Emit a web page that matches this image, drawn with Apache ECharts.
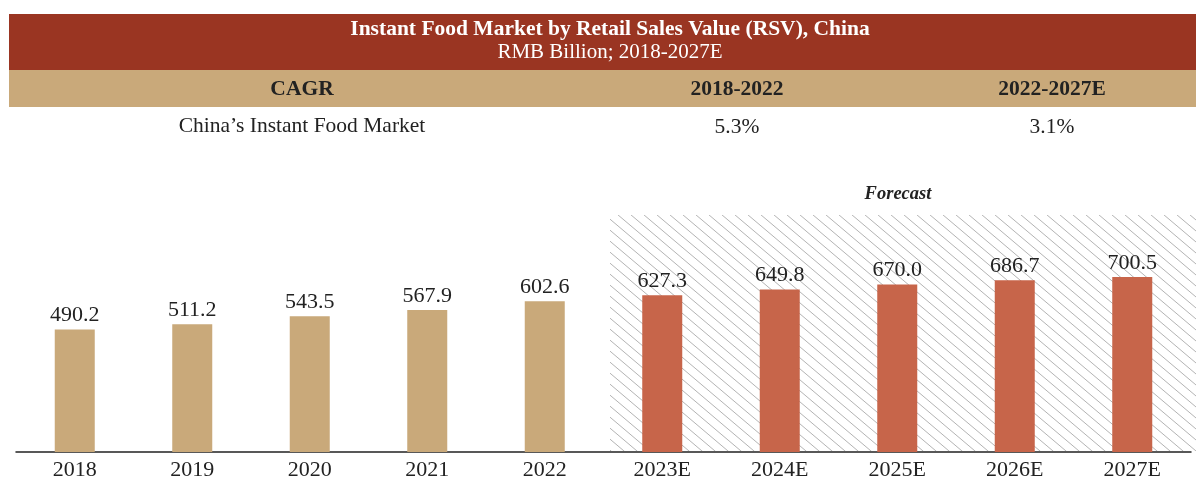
<!DOCTYPE html>
<html>
<head>
<meta charset="utf-8">
<script src="https://cdn.jsdelivr.net/npm/echarts@6/dist/echarts.min.js"></script>
<style>
  html, body { margin: 0; padding: 0; background: #fff; }
  #chart { width: 1196px; height: 485px; }
</style>
</head>
<body>
<div id="chart"></div>
<script>
// data
var years = ['2018', '2019', '2020', '2021', '2022', '2023E', '2024E', '2025E', '2026E', '2027E'];
var rsv = [490.2, 511.2, 543.5, 567.9, 602.6, 627.3, 649.8, 670.0, 686.7, 700.5];
var histCount = 5;
var cagrPeriods = ['2018-2022', '2022-2027E'];
var cagrValues = ['5.3%', '3.1%'];

var serif = '"Liberation Serif", "DejaVu Serif", serif';

// hatch pattern for forecast area (diagonal of the tile, so it wraps)
function hatch () {
  var w = 13, h = 11;
  var c = document.createElement('canvas');
  c.width = w; c.height = h;
  var ctx = c.getContext('2d');
  ctx.strokeStyle = '#a0a0a0';
  ctx.lineWidth = 0.8;
  ctx.beginPath();
  ctx.moveTo(-w, -h); ctx.lineTo(2 * w, 2 * h);
  ctx.moveTo(-w, 0); ctx.lineTo(w, 2 * h);
  ctx.moveTo(0, -h); ctx.lineTo(2 * w, h);
  ctx.stroke();
  return c;
}

var myChart = echarts.init(document.getElementById('chart'));

function txt (x, y, text, font, fill) {
  return { type: 'text', x: x, y: y, style: { text: text, fill: fill || '#222', font: font + ' ' + serif, textAlign: 'center', textVerticalAlign: 'middle' } };
}

var option = {
  animation: false,
  grid: { left: 16, right: 5, top: 252, bottom: 33, containLabel: false },
  xAxis: {
    type: 'category',
    data: years,
    axisTick: { show: false },
    axisLine: { lineStyle: { color: '#222', width: 1.5 } },
    axisLabel: { color: '#222', fontSize: 22, fontFamily: serif, margin: 7 }
  },
  yAxis: {
    type: 'value',
    min: 0,
    max: 800,
    show: false,
    splitLine: { show: false }
  },
  graphic: [
    { type: 'rect', shape: { x: 9, y: 14, width: 1187, height: 56 }, style: { fill: '#9A3522' } },
    { type: 'rect', shape: { x: 9, y: 70, width: 1187, height: 37 }, style: { fill: '#C9A97A' } },
    txt(610, 29, 'Instant Food Market by Retail Sales Value (RSV), China', 'bold 21.5px', '#fff'),
    txt(610, 52, 'RMB Billion; 2018-2027E', '21px', '#fff'),
    txt(302, 89, 'CAGR', 'bold 21.5px'),
    txt(737, 89, cagrPeriods[0], 'bold 21.5px'),
    txt(1052, 89, cagrPeriods[1], 'bold 21.5px'),
    txt(302, 126, 'China\u2019s Instant Food Market', '21.5px'),
    txt(737, 127, cagrValues[0], '21.5px'),
    txt(1052, 127, cagrValues[1], '21.5px'),
    txt(898, 194, 'Forecast', 'italic bold 18.5px')
  ],
  series: [
    {
      type: 'bar',
      data: rsv,
      barWidth: 40,
      z: 3,
      itemStyle: {
        color: function (p) { return p.dataIndex < histCount ? '#C9A97A' : '#C7654A'; }
      },
      label: {
        show: true,
        position: 'top',
        distance: 3,
        color: '#222',
        fontSize: 22,
        fontFamily: serif,
        formatter: function (p) { return p.value.toFixed(1); }
      },
      markArea: {
        silent: true,
        z: 1,
        itemStyle: { color: { image: hatch(), repeat: 'repeat' } },
        data: [[{ x: 610, y: 215 }, { x: 1196, y: 451 }]]
      }
    }
  ]
};

option && myChart.setOption(option);
</script>
</body>
</html>
